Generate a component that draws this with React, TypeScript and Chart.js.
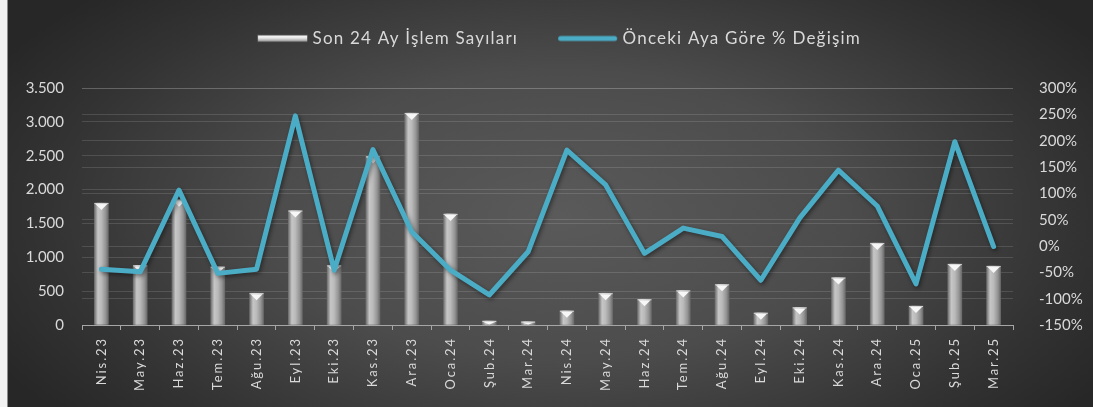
import React, { useEffect, useRef } from 'react';
import { Chart, registerables } from 'chart.js';

Chart.register(...registerables);

const CATEGORIES = ['Nis.23', 'May.23', 'Haz.23', 'Tem.23', 'Ağu.23', 'Eyl.23', 'Eki.23', 'Kas.23', 'Ara.23', 'Oca.24', 'Şub.24', 'Mar.24', 'Nis.24', 'May.24', 'Haz.24', 'Tem.24', 'Ağu.24', 'Eyl.24', 'Eki.24', 'Kas.24', 'Ara.24', 'Oca.25', 'Şub.25', 'Mar.25'];
const TRANSACTIONS = [1800, 880, 1850, 860, 470, 1690, 880, 2490, 3130, 1640, 60, 50, 210, 470, 380, 510, 600, 180, 260, 700, 1210, 280, 900, 870];
const CHANGE_PCT = [-44, -49, 106, -52, -44, 247, -46, 183, 27, -46, -93, -11, 182, 116, -14, 34, 18, -65, 53, 144, 76, -72, 198, -1];
const LEFT_TICKS = ['0', '500', '1.000', '1.500', '2.000', '2.500', '3.000', '3.500'];
const RIGHT_TICKS = ['-150%', '-100%', '-50%', '0%', '50%', '100%', '150%', '200%', '250%', '300%'];
const SERIES_NAMES = ['Son 24 Ay İşlem Sayıları', 'Önceki Aya Göre % Değişim'];

const W = 1093;
const H = 407;
const FONT = 'Lato, "Open Sans", sans-serif';
const TEXT = '#d9d9d9';
const LINE_COLOR = '#4BACC6';
const PAD_LEFT = 6;
const AREA_LEFT = 82;
const AREA_RIGHT = 1013;
const AREA_TOP = 88;
const AREA_BOTTOM = 325;
const BAR_W = 14;

function makeBarMarker() {
  const c = document.createElement('canvas');
  c.width = 74;
  c.height = 12;
  const ctx = c.getContext('2d')!;
  const g = ctx.createLinearGradient(0, 2, 0, 10);
  g.addColorStop(0, '#ffffff');
  g.addColorStop(0.45, '#e6e6e6');
  g.addColorStop(1, '#7c7c7c');
  ctx.fillStyle = g;
  ctx.fillRect(23, 2.5, 51, 7);
  ctx.strokeStyle = 'rgba(60,60,60,0.8)';
  ctx.lineWidth = 1;
  ctx.strokeRect(23.5, 2.5, 50, 7);
  return c;
}

function makeLineMarker() {
  const c = document.createElement('canvas');
  c.width = 74;
  c.height = 12;
  const ctx = c.getContext('2d')!;
  ctx.strokeStyle = LINE_COLOR;
  ctx.lineWidth = 5;
  ctx.lineCap = 'round';
  ctx.beginPath();
  ctx.moveTo(16.5, 6);
  ctx.lineTo(70.5, 6);
  ctx.stroke();
  return c;
}

const backgroundPlugin = {
  id: 'bgPlugin',
  beforeDraw(chart: any) {
    const ctx = chart.ctx as CanvasRenderingContext2D;
    ctx.save();
    ctx.fillStyle = '#f2f2f2';
    ctx.fillRect(0, 0, 7, H);
    ctx.fillStyle = '#8a8a8a';
    ctx.fillRect(7, 0, 1, H);
    ctx.beginPath();
    ctx.rect(8, 0, W - 8, H);
    ctx.clip();
    ctx.translate(560, 215);
    ctx.scale(1, 0.5);
    const g = ctx.createRadialGradient(0, 0, 0, 0, 0, 640);
    g.addColorStop(0, '#5a5a5a');
    g.addColorStop(0.45, '#4c4c4c');
    g.addColorStop(0.8, '#333333');
    g.addColorStop(1, '#272727');
    ctx.fillStyle = g;
    ctx.fillRect(-700, -700, 1400, 1400);
    ctx.restore();
  },
};

const LEGEND_SPACING = '1.2px';

const legendFitPlugin = {
  id: 'legendFit',
  beforeLayout(chart: any) {
    const lg = chart.legend;
    if (lg && !lg._fitPatched) {
      const origFit = lg.fit;
      lg.fit = function () {
        const ctx = this.ctx;
        ctx.save();
        ctx.letterSpacing = LEGEND_SPACING;
        origFit.call(this);
        ctx.restore();
        this.height = AREA_TOP;
      };
      const origDraw = lg.draw;
      lg.draw = function () {
        const ctx = this.ctx;
        ctx.save();
        ctx.letterSpacing = LEGEND_SPACING;
        origDraw.call(this);
        ctx.restore();
      };
      lg._fitPatched = true;
    }
  },
};

const xLabelSpacingPlugin = {
  id: 'xLabelSpacing',
  beforeDraw(chart: any) {
    const s = chart.scales.x;
    if (s && !s._lsPatched) {
      const orig = s.drawLabels;
      s.drawLabels = function (area: any) {
        const ctx = this.ctx;
        ctx.save();
        ctx.letterSpacing = '1.9px';
        orig.call(this, area);
        ctx.restore();
      };
      s._lsPatched = true;
    }
  },
};

const lineShadowPlugin = {
  id: 'lineShadow',
  beforeDatasetDraw(chart: any, args: any) {
    if (args.index === 1) {
      const ctx = chart.ctx;
      ctx.save();
      ctx.shadowColor = 'rgba(0,0,0,0.45)';
      ctx.shadowBlur = 4;
      ctx.shadowOffsetX = 1.5;
      ctx.shadowOffsetY = 2;
    }
  },
  afterDatasetDraw(chart: any, args: any) {
    if (args.index === 1) chart.ctx.restore();
  },
};

const barCapPlugin = {
  id: 'barCap',
  afterDatasetDraw(chart: any, args: any) {
    if (args.index !== 0) return;
    const ctx = chart.ctx as CanvasRenderingContext2D;
    const meta = chart.getDatasetMeta(0);
    ctx.save();
    meta.data.forEach((el: any) => {
      const half = el.width / 2;
      const top = el.y;
      const bottom = el.base;
      const h = Math.min(6, Math.max(0, bottom - top - 1));
      if (h <= 0) return;
      ctx.fillStyle = '#f7f7f7';
      ctx.beginPath();
      ctx.moveTo(el.x - half + 1, top + 1);
      ctx.lineTo(el.x + half - 1, top + 1);
      ctx.lineTo(el.x, top + 1 + h);
      ctx.closePath();
      ctx.fill();
      ctx.strokeStyle = 'rgba(225,225,225,0.9)';
      ctx.lineWidth = 1;
      ctx.beginPath();
      ctx.moveTo(el.x - half, top + 0.5);
      ctx.lineTo(el.x + half, top + 0.5);
      ctx.stroke();
    });
    ctx.restore();
  },
};

function barGradient(c: any) {
  const chart = c.chart;
  const xs = chart.scales && chart.scales.x;
  if (!xs || c.dataIndex === undefined) return '#a8a8a8';
  const cx = xs.getPixelForValue(c.dataIndex);
  const g = chart.ctx.createLinearGradient(cx - BAR_W / 2, 0, cx + BAR_W / 2, 0);
  g.addColorStop(0, '#707070');
  g.addColorStop(0.25, '#c6c6c6');
  g.addColorStop(0.5, '#bababa');
  g.addColorStop(0.8, '#949494');
  g.addColorStop(1, '#6a6a6a');
  return g;
}

export default function App() {
  const ref = useRef<HTMLCanvasElement>(null);

  useEffect(() => {
    const canvas = ref.current;
    if (!canvas) return;
    const markerBar = makeBarMarker();
    const markerLine = makeLineMarker();

    const chart = new Chart(canvas, {
      type: 'bar',
      data: {
        labels: CATEGORIES,
        datasets: [
          {
            type: 'bar',
            label: SERIES_NAMES[0],
            data: TRANSACTIONS,
            yAxisID: 'y',
            order: 1,
            barThickness: BAR_W,
            backgroundColor: barGradient as any,
            borderWidth: 0,
          },
          {
            type: 'line',
            label: SERIES_NAMES[1],
            data: CHANGE_PCT,
            yAxisID: 'y1',
            order: 0,
            borderColor: LINE_COLOR,
            borderWidth: 5,
            pointRadius: 0,
            pointHoverRadius: 0,
            tension: 0,
            borderCapStyle: 'round',
            borderJoinStyle: 'round',
            fill: false,
          } as any,
        ],
      },
      options: {
        responsive: false,
        animation: false,
        devicePixelRatio: 1,
        layout: { padding: { left: PAD_LEFT, right: 0, top: 0, bottom: 0 } },
        plugins: {
          tooltip: { enabled: false },
          legend: {
            position: 'top',
            align: 'center',
            labels: {
              usePointStyle: true,
              pointStyleWidth: 66,
              padding: 30,
              color: TEXT,
              font: { family: FONT, size: 17 },
              generateLabels: () => [
                { text: SERIES_NAMES[0], pointStyle: markerBar as any, datasetIndex: 0, fontColor: TEXT, hidden: false, lineWidth: 0, strokeStyle: 'rgba(0,0,0,0)', fillStyle: 'rgba(0,0,0,0)' },
                { text: SERIES_NAMES[1], pointStyle: markerLine as any, datasetIndex: 1, fontColor: TEXT, hidden: false, lineWidth: 0, strokeStyle: 'rgba(0,0,0,0)', fillStyle: 'rgba(0,0,0,0)' },
              ],
            },
          },
        },
        scales: {
          x: {
            type: 'category',
            offset: true,
            grid: { display: true, drawOnChartArea: false, drawTicks: true, tickLength: 5, color: '#a6a6a6', offset: true },
            border: { display: true, color: '#a6a6a6', width: 1 },
            ticks: {
              autoSkip: false,
              maxRotation: 90,
              minRotation: 90,
              color: TEXT,
              font: { family: FONT, size: 13 },
              padding: 7,
            },
            afterFit: (s: any) => {
              s.height = H - AREA_BOTTOM;
            },
          },
          y: {
            position: 'left',
            min: 0,
            max: 3500,
            ticks: {
              stepSize: 500,
              color: TEXT,
              font: { family: FONT, size: 15 },
              padding: 18,
              callback: (_v: any, i: number) => LEFT_TICKS[i],
            },
            grid: { color: 'rgba(255,255,255,0.13)', drawTicks: false },
            border: { display: false },
            afterFit: (s: any) => {
              s.width = AREA_LEFT - PAD_LEFT;
            },
          },
          y1: {
            position: 'right',
            min: -150,
            max: 300,
            ticks: {
              stepSize: 50,
              color: TEXT,
              font: { family: FONT, size: 15 },
              padding: 26,
              callback: (_v: any, i: number) => RIGHT_TICKS[i],
            },
            grid: { color: 'rgba(255,255,255,0.13)', drawTicks: false },
            border: { display: false },
            afterFit: (s: any) => {
              s.width = W - AREA_RIGHT;
            },
          },
        },
      } as any,
      plugins: [backgroundPlugin, legendFitPlugin, xLabelSpacingPlugin, lineShadowPlugin, barCapPlugin],
    });

    return () => chart.destroy();
  }, []);

  return (
    <div style={{ position: 'absolute', left: 0, top: 0, width: W, height: H }}>
      <canvas ref={ref} width={W} height={H} style={{ display: 'block', width: W, height: H }} />
    </div>
  );
}
